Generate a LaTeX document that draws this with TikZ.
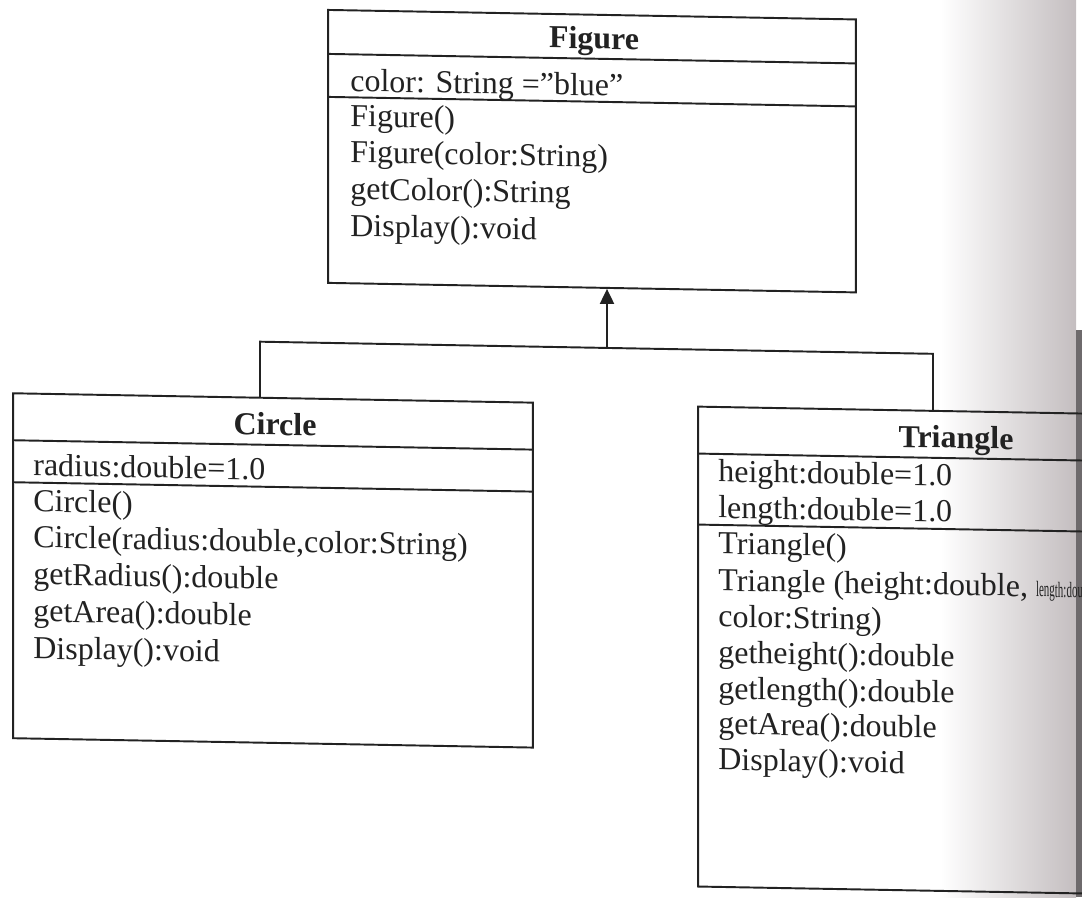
\documentclass[tikz,border=0pt]{standalone}
\usepackage{fontspec}
\usepackage{graphicx}
\setmainfont{Liberation Serif}
\usetikzlibrary{arrows.meta}

\definecolor{ink}{RGB}{34,34,34}
\definecolor{scanedge}{RGB}{196,190,192}
\definecolor{scandark}{RGB}{110,106,108}

\newcommand{\squeezed}[1]{\scalebox{0.5}[1]{\fontsize{12.5}{14}\selectfont #1}}

\begin{document}
\begin{tikzpicture}[x=0.02cm, y=-0.02cm,
    classbox/.style={draw=ink, line width=1.1pt, inner sep=0pt, transform shape},
    classname/.style={font=\fontsize{18.2}{21}\selectfont\bfseries, text=ink, inner sep=0pt, anchor=base, transform shape},
    member/.style={font=\fontsize{18.2}{21}\selectfont, text=ink, inner sep=0pt, anchor=base west, transform shape},
    rule/.style={draw=ink, line width=1.1pt},
    link/.style={draw=ink, line width=1.1pt}]
    \clip (0,0) rectangle (1082,897);
    % edge of the scanned page
    \shade[left color=white, right color=scanedge] (940,0) rectangle (1076,897);
    \fill[scandark] (1076,330) rectangle (1082,897);
    \begin{scope}[yslant=-0.018]
        % Figure
        \node[classbox, minimum width=10.56cm, minimum height=5.46cm] (figureBox) at (592,140.5) {};
        \draw[rule] (328,48) -- (856,48);
        \draw[rule] (328,91) -- (856,91);
        \node[classname] (figureName) at (594,38) {Figure};
        \node[member] (figureAttr) at (350,85) {color: String =”blue”};
        \node[member] (figureOp1) at (350,120) {Figure()};
        \node[member] (figureOp2) at (350,156) {Figure(color:String)};
        \node[member] (figureOp3) at (350,193) {getColor():String};
        \node[member] (figureOp4) at (350,230) {Display():void};

        % Circle
        \node[classbox, minimum width=10.4cm, minimum height=6.9cm] (circleBox) at (273,565.5) {};
        \draw[rule] (13,440) -- (533,440);
        \draw[rule] (13,482) -- (533,482);
        \node[classname] (circleName) at (275,430) {Circle};
        \node[member] (circleAttr) at (33,475) {radius:double=1.0};
        \node[member] (circleOp1) at (33,511) {Circle()};
        \node[member] (circleOp2) at (33,547) {Circle(radius:double,color:String)};
        \node[member] (circleOp3) at (33,584) {getRadius():double};
        \node[member] (circleOp4) at (33,621) {getArea():double};
        \node[member] (circleOp5) at (33,658) {Display():void};

        % Triangle
        \node[classbox, minimum width=10.4cm, minimum height=9.6cm] (triangleBox) at (958,634) {};
        \draw[rule] (698,441) -- (1218,441);
        \draw[rule] (698,512) -- (1218,512);
        \node[classname] (triangleName) at (956,431) {Triangle};
        \node[member] (triangleAttr1) at (718,469) {height:double=1.0};
        \node[member] (triangleAttr2) at (718,505) {length:double=1.0};
        \node[member] (triangleOp1) at (718,541) {Triangle()};
        \node[member] (triangleOp2) at (718,578) {Triangle (height:double, \squeezed{length:double,}};
        \node[member] (triangleOp3) at (718,614) {color:String)};
        \node[member] (triangleOp4) at (718,650) {getheight():double};
        \node[member] (triangleOp5) at (718,686) {getlength():double};
        \node[member] (triangleOp6) at (718,721) {getArea():double};
        \node[member] (triangleOp7) at (718,757) {Display():void};

        % inheritance
        \coordinate (leftTurn) at (260,337);
        \coordinate (joint) at (607,337);
        \coordinate (rightTurn) at (933,337);
        \draw[link] (leftTurn |- circleBox.north) -- (leftTurn) -- (rightTurn) -- (rightTurn |- triangleBox.north);
        \draw[link, -{Triangle[length=0.3cm, width=0.28cm]}] (joint) -- (joint |- figureBox.south);
    \end{scope}
\end{tikzpicture}
\end{document}
